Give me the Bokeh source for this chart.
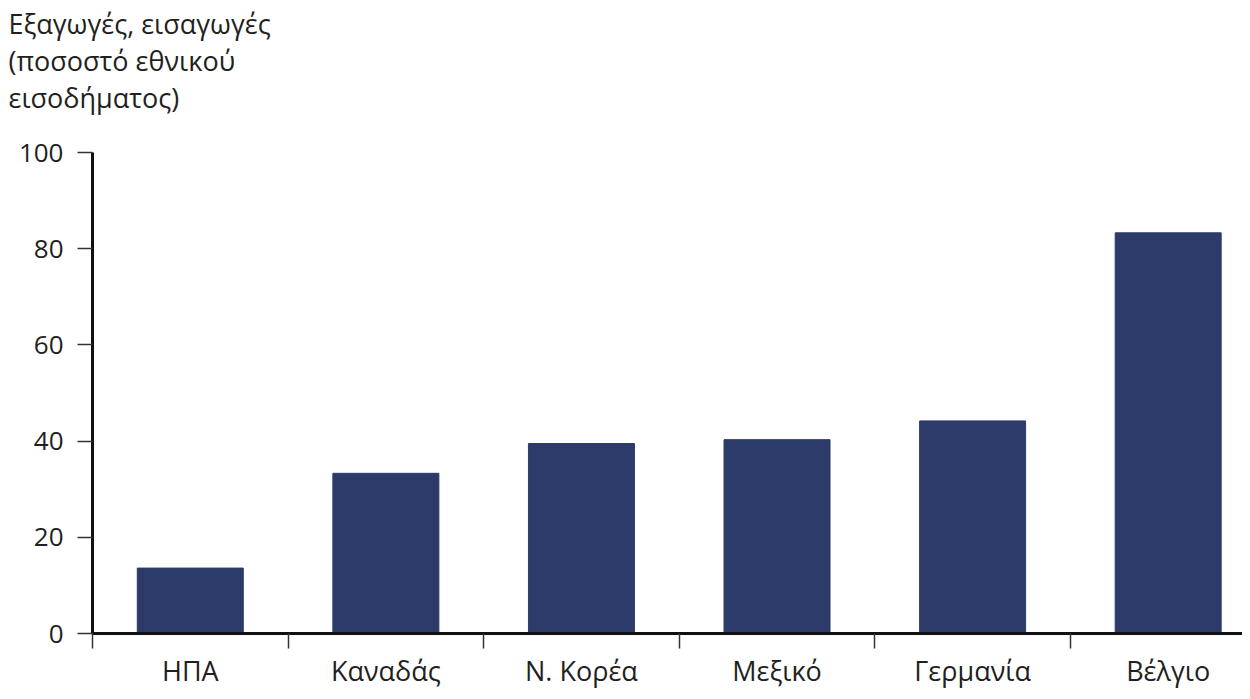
from bokeh.plotting import figure
from bokeh.models import Range1d, FixedTicker, LinearAxis, Title
from bokeh.embed import file_html
from bokeh.resources import INLINE

# ---- data ----
countries = ["ΗΠΑ", "Καναδάς", "Ν. Κορέα", "Μεξικό", "Γερμανία", "Βέλγιο"]
values = [13.6, 33.3, 39.5, 40.3, 44.2, 83.3]
y_ticks = [0, 20, 40, 60, 80, 100]
title_lines = ["Εξαγωγές, εισαγωγές", "(ποσοστό εθνικού", "εισοδήματος)"]

# ---- style ----
BAR = "#2d3b6b"
TXT = "#231f20"
FONT = "Open Sans"

centers = [i + 0.5 for i in range(len(countries))]
bounds = [float(i) for i in range(len(countries) + 1)]

p = figure(width=1242, height=691, output_backend="svg", toolbar_location=None,
           x_range=Range1d(0, 5.88), y_range=Range1d(0, 100),
           x_axis_type=None, y_axis_type=None,
           min_border_left=92, min_border_right=0, min_border_top=152,
           min_border_bottom=50)
p.outline_line_color = None
p.background_fill_color = "white"
p.border_fill_color = "white"

p.vbar(x=centers, top=values, width=0.542, fill_color=BAR, line_color=BAR)

# y axis
ya = LinearAxis(ticker=FixedTicker(ticks=y_ticks, minor_ticks=[]))
ya.axis_line_width = 3
ya.axis_line_color = "#111111"
ya.major_tick_out = 15
ya.major_tick_in = 0
ya.major_tick_line_width = 1.5
ya.major_tick_line_color = "#333333"
ya.minor_tick_out = 0
ya.major_label_standoff = 14
ya.major_label_text_font = FONT
ya.major_label_text_font_size = "26px"
ya.major_label_text_color = TXT
p.add_layout(ya, "left")

# x axis: labels at category centres, tick marks at category boundaries
xa = LinearAxis(ticker=FixedTicker(ticks=centers, minor_ticks=bounds))
xa.major_label_overrides = {c: n for c, n in zip(centers, countries)}
xa.axis_line_width = 3
xa.axis_line_color = "#111111"
xa.major_tick_out = 0
xa.major_tick_in = 0
xa.minor_tick_out = 15
xa.minor_tick_in = 0
xa.minor_tick_line_width = 1.5
xa.minor_tick_line_color = "#333333"
xa.major_label_standoff = 3
xa.major_label_text_font = FONT
xa.major_label_text_font_size = "27px"
xa.major_label_text_color = TXT
p.add_layout(xa, "below")

# axis title above the plot area; a trailing empty line lifts it to the top
p.add_layout(Title(text="\n".join(title_lines) + "\n ", align="left", offset=-84,
                   standoff=0, text_font=FONT, text_font_size="27px",
                   text_line_height=1.0,
                   text_font_style="normal", text_color=TXT), "above")

open("out.html", "w").write(file_html(p, INLINE))
